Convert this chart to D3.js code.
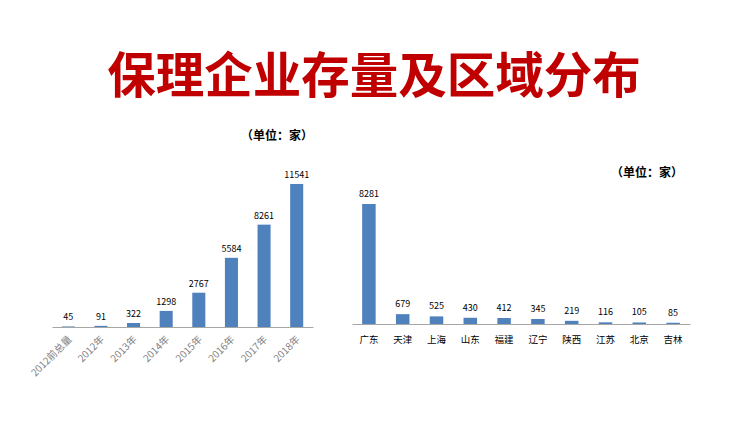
<!DOCTYPE html>
<html>
<head>
<meta charset="utf-8">
<script src="https://cdn.jsdelivr.net/npm/d3@7"></script>
<style>
  body { margin: 0; background: #fff; }
  svg { display: block; font-family: "Noto Sans CJK SC", sans-serif; }
</style>
</head>
<body>
<svg width="732" height="422"></svg>
<script>
// left chart: yearly stock of factoring companies
var years = ["2012前总量", "2012年", "2013年", "2014年", "2015年", "2016年", "2017年", "2018年"];
var yearCounts = [45, 91, 322, 1298, 2767, 5584, 8261, 11541];

// right chart: regional distribution
var regions = ["广东", "天津", "上海", "山东", "福建", "辽宁", "陕西", "江苏", "北京", "吉林"];
var regionCounts = [8281, 679, 525, 430, 412, 345, 219, 116, 105, 85];

var unitLabel = "（单位：家）";
var barColor = "#4f81bd";

var svg = d3.select("svg");

svg.append("text")
    .attr("x", 374)
    .attr("y", 93)
    .attr("text-anchor", "middle")
    .attr("font-size", "48.5px")
    .attr("font-weight", "bold")
    .attr("fill", "#c00000")
    .text("保理企业存量及区域分布");

// ---- left chart ----
var x1 = d3.scaleBand().domain(years).range([52, 313]).paddingInner(0.6).paddingOuter(0.3);
var y1 = d3.scaleLinear().domain([0, 11541]).range([327, 184]);

var g1 = svg.append("g");
g1.selectAll(".bar")
    .data(yearCounts)
    .enter().append("rect")
    .attr("class", "bar")
    .attr("x", function (d, i) { return x1(years[i]); })
    .attr("y", function (d) { return y1(d); })
    .attr("width", x1.bandwidth())
    .attr("height", function (d) { return y1(0) - y1(d); })
    .attr("fill", barColor);

g1.selectAll(".val")
    .data(yearCounts)
    .enter().append("text")
    .attr("class", "val")
    .attr("x", function (d, i) { return x1(years[i]) + x1.bandwidth() / 2; })
    .attr("y", function (d) { return y1(d) - 6; })
    .attr("text-anchor", "middle")
    .attr("font-size", "9px")
    .attr("fill", "#000")
    .text(function (d) { return d; });

var ax1 = g1.append("g")
    .attr("transform", "translate(0,327)")
    .call(d3.axisBottom(x1).tickSize(0).tickSizeOuter(0));
ax1.select(".domain").attr("stroke", "#a6a6a6");
ax1.selectAll("text")
    .attr("font-size", "10px")
    .attr("fill", "#808080")
    .attr("font-family", "\"Noto Sans CJK SC\", sans-serif")
    .attr("text-anchor", "end")
    .attr("dy", null)
    .attr("y", 0)
    .attr("transform", "translate(4,13) rotate(-45)");

svg.append("text")
    .attr("x", 277)
    .attr("y", 140)
    .attr("text-anchor", "middle")
    .attr("font-size", "12px")
    .attr("font-weight", "bold")
    .text(unitLabel);

// ---- right chart ----
var x2 = d3.scaleBand().domain(regions).range([352, 690]).paddingInner(0.6).paddingOuter(0.3);
var y2 = d3.scaleLinear().domain([0, 8281]).range([324, 204]);

var g2 = svg.append("g");
g2.selectAll(".bar")
    .data(regionCounts)
    .enter().append("rect")
    .attr("class", "bar")
    .attr("x", function (d, i) { return x2(regions[i]); })
    .attr("y", function (d) { return y2(d); })
    .attr("width", x2.bandwidth())
    .attr("height", function (d) { return y2(0) - y2(d); })
    .attr("fill", barColor);

g2.selectAll(".val")
    .data(regionCounts)
    .enter().append("text")
    .attr("class", "val")
    .attr("x", function (d, i) { return x2(regions[i]) + x2.bandwidth() / 2; })
    .attr("y", function (d) { return y2(d) - 7; })
    .attr("text-anchor", "middle")
    .attr("font-size", "9px")
    .attr("fill", "#000")
    .text(function (d) { return d; });

var ax2 = g2.append("g")
    .attr("transform", "translate(0,324)")
    .call(d3.axisBottom(x2).tickSize(0).tickSizeOuter(0));
ax2.select(".domain").attr("stroke", "#a6a6a6");
ax2.selectAll("text")
    .attr("font-size", "9.5px")
    .attr("fill", "#000")
    .attr("font-family", "\"Noto Sans CJK SC\", sans-serif")
    .attr("dy", null)
    .attr("y", 19);

svg.append("text")
    .attr("x", 647)
    .attr("y", 177)
    .attr("text-anchor", "middle")
    .attr("font-size", "12px")
    .attr("font-weight", "bold")
    .text(unitLabel);
</script>
</body>
</html>
